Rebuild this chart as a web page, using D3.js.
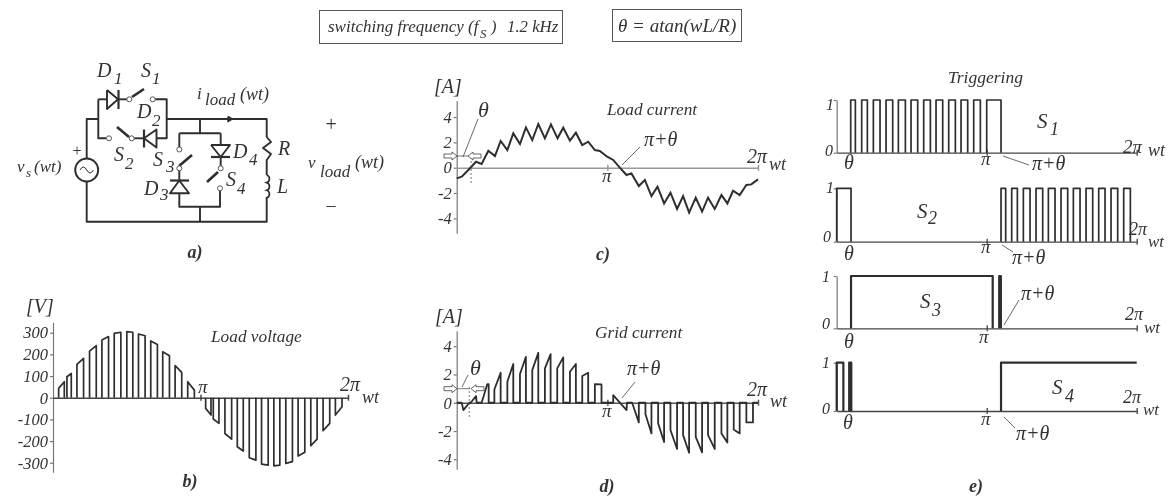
<!DOCTYPE html>
<html>
<head>
<meta charset="utf-8">
<script src="https://cdn.jsdelivr.net/npm/d3@7"></script>
<style>
  html, body { margin: 0; padding: 0; background: #fff; }
  svg { display: block; filter: blur(0.45px); }
  text { font-family: "Liberation Serif", serif; font-style: italic; fill: #333; }
</style>
</head>
<body>
<div id="chart"></div>
<script>
// b) load voltage: each pulse runs from start to end (wt in degrees)
const voltStart = [6.9, 17, 29.2, 44.6, 59.7, 74.7, 90.1, 104.3, 119.3, 133.9, 149, 164.4,
    186.3, 195.6, 209.8, 224.9, 239.5, 254.5, 269.5, 284.1, 299.1, 314.6, 329.6, 344.6];
const voltEnd = [13.8, 22.3, 37.3, 52.8, 67.8, 82.8, 97.4, 112.4, 127.4, 142.1, 157.1, 172.5,
    192.8, 202.5, 218, 232.2, 247.6, 262.6, 276.8, 292.2, 307.3, 322.3, 337.7, 352.7];
const voltStartVal = [43, 97, 154, 215, 266, 297, 305, 294, 262, 212, 148, 74,
    -49, -98, -165, -226, -277, -306, -314, -303, -269, -221, -152, -80];
const voltEndVal = [74, 112, 182, 240, 282, 302, 302, 286, 246, 194, 117, 35,
    -80, -118, -191, -246, -288, -311, -311, -295, -252, -191, -118, -42];
const voltTicks = [300, 200, 100, 0, -100, -200, -300];

// c) load current
const loadWt = [0, 6, 13.9, 23.1, 29.8, 37.8, 45.7, 52.5, 60.5, 67.6, 75.6, 82.7, 90.3, 97.5, 105.4, 112.6,
    120.5, 127.3, 135.3, 142.4, 150, 157.1, 165.1, 171, 179.8, 187, 194.9, 202.9, 208.8, 217.6, 224.8, 232.7,
    239.9, 247.8, 255.4, 263.3, 270.5, 277.7, 285.6, 293.2, 300.3, 308.3, 316.3, 323.4, 330.2, 338.1, 346.1, 352, 360];
const loadAmp = [-0.84, -0.71, -0.18, 0.47, 0.29, 1.34, 0.92, 2.11, 1.39, 2.71, 1.87, 3.18, 2.18, 3.45, 2.32, 3.42,
    2.32, 3.16, 2.13, 2.76, 1.79, 2.05, 1.39, 1.32, 0.87, 0.61, 0, -0.58, -0.45, -1.45, -0.97, -2.24,
    -1.5, -2.82, -1.97, -3.26, -2.24, -3.55, -2.37, -3.47, -2.37, -3.26, -2.16, -2.82, -1.82, -2.16, -1.37, -1.32, -0.92];
const ampTicks = [4, 2, 0, -2, -4];

// d) grid current, walked point by point
const gridWt = [0, 6, 8, 15.1, 16.7, 23.1, 23.9, 29.8, 36.6, 38.2, 38.2, 45, 45, 52.5, 52.5, 60.5, 60.5, 67.6, 67.6,
    75.6, 75.6, 82.7, 82.7, 90.3, 90.3, 97.5, 97.5, 105.4, 105.4, 112.2, 112.2, 120.1, 120.1, 127.3, 127.3,
    135.3, 135.3, 142.4, 142.4, 150, 150, 157.1, 157.1, 165.1, 165.1, 173, 173, 187, 187, 202.9, 203.5,
    209.6, 217.6, 217.6, 225.5, 225.5, 232.7, 232.7, 240.7, 240.7, 247.8, 247.8, 255.4, 255.4, 263.3, 263.3,
    270.5, 270.5, 277.7, 277.7, 285.6, 285.6, 293.2, 293.2, 300.3, 300.3, 308.3, 308.3, 316.3, 316.3, 323.4, 323.4,
    331, 331, 338.1, 338.1, 346.1, 346.1, 354, 354, 360];
const gridAmp = [0, 0, -0.52, 0, 0, 0.47, 0, 0, 1.32, 1.32, 0, 0, 0.94, 2.12, 0, 0, 1.49, 2.74, 0,
    0, 2.03, 3.25, 0, 0, 2.31, 3.54, 0, 0, 2.43, 3.44, 0, 0, 2.43, 3.21, 0,
    0, 2.19, 2.74, 0, 0, 1.89, 2.12, 0, 0, 1.32, 1.3, 0, 0, 0.54, -0.52, 0,
    0, -1.39, 0, 0, -0.8, -2.17, 0, 0, -1.46, -2.78, 0, 0, -1.93, -3.27, 0,
    0, -2.29, -3.54, 0, 0, -2.41, -3.51, 0, 0, -2.29, -3.27, 0, 0, -2.17, -2.81, 0,
    0, -1.89, -2.17, 0, 0, -1.39, -1.39, 0, 0];

// e) triggering: [on, off] in degrees of wt
const s1On = [[16.8, 22.4], [30, 36.8], [44, 52], [59.2, 67.2], [74, 82.4], [89.2, 97.2], [104.4, 112.4],
    [119.2, 127.2], [134.4, 142.4], [149.2, 157.2], [164.4, 172.4], [180, 197.2]];
const s2On = [[0, 17.2], [197.2, 202.8], [210, 216.8], [224, 232], [239.2, 247.2], [254, 262], [269.2, 277.2],
    [284, 292], [299.2, 307.2], [314.4, 322], [329.2, 337.2], [344.4, 352.4]];
const s3On = [[17.2, 187.2], [195, 197]];
const s4On = [[0, 8], [15, 17.5], [197.2, 360]];

const svg = d3.select("#chart").append("svg").attr("width", 1169).attr("height", 497);
const ink = "#2e2e2e";

function txt(x, y, str, size, anchor) {
    return svg.append("text").attr("x", x).attr("y", y).attr("font-size", size)
        .attr("text-anchor", anchor || "start").text(str);
}

// symbol with a lowered index, e.g. D1, S2
function sym(x, y, str, sub, subX, subY, size) {
    txt(x, y, str, size || 20);
    txt(subX, subY, sub, (size || 20) - 3);
}

function wire(pts, width, color) {
    return svg.append("path").attr("d", d3.line()(pts)).attr("fill", "none")
        .attr("stroke", color || ink).attr("stroke-width", width || 1.9).attr("stroke-linejoin", "round");
}

function hollowArrow(tipX, y, dir) {
    const pts = [[tipX, y], [tipX - dir * 5, y - 4], [tipX - dir * 5, y - 2], [tipX - dir * 13, y - 2],
        [tipX - dir * 13, y + 2], [tipX - dir * 5, y + 2], [tipX - dir * 5, y + 4], [tipX, y]];
    wire(pts, 0.9, "#555").attr("fill", "#fff");
}

function leader(x1, y1, x2, y2) {
    wire([[x1, y1], [x2, y2]], 0.8, "#444");
}

function yAxis(x, scale, ticks, labelled) {
    const g = svg.append("g").attr("transform", "translate(" + x + ",0)")
        .call(d3.axisLeft(scale).tickValues(ticks).tickSizeInner(3).tickSizeOuter(0).tickPadding(2)
            .tickFormat(labelled ? d => String(d) : ""));
    g.selectAll("path,line").attr("stroke", "#777").attr("stroke-width", 1.2);
    g.selectAll("text").attr("font-size", 16.5).attr("font-family", '"Liberation Serif", serif').attr("fill", "#333");
}

function xAxis(y, scale, color, width) {
    const g = svg.append("g").attr("transform", "translate(0," + y + ")")
        .call(d3.axisBottom(scale).tickValues([180, 360]).tickSizeInner(3).tickSizeOuter(0).tickFormat(""));
    g.selectAll("path,line").attr("stroke", color).attr("stroke-width", width);
    g.selectAll("line").attr("y1", -3);
}

// ---------- top boxes ----------
svg.append("rect").attr("x", 319.5).attr("y", 10.5).attr("width", 243).attr("height", 33)
    .attr("fill", "none").attr("stroke", "#555");
txt(328, 32, "switching frequency (f", 17);
txt(480, 38, "S", 13);
txt(491, 32, ")", 16.5);
txt(507, 32, "1.2 kHz", 16.8);
svg.append("rect").attr("x", 612.5).attr("y", 9.5).attr("width", 129).attr("height", 32)
    .attr("fill", "none").attr("stroke", "#555");
txt(618, 32, "θ = atan(wL/R)", 19);

// ---------- a) circuit ----------
wire([[98.3, 99.3], [98.3, 138.3], [106, 138.3]]);
wire([[98.3, 99.3], [127, 99.3]]);
wire([[98.3, 119], [86.7, 119], [86.7, 221.7], [266.7, 221.7], [266.7, 197]]);
wire([[166.7, 119], [266.7, 119], [266.7, 137]]);
wire([[155, 99.3], [166.7, 99.3], [166.7, 138.3], [157, 138.3]]);
wire([[133, 138.3], [144, 138.3]]);
wire([[200, 119], [200, 133.3]]);
wire([[179.3, 133.3], [220.7, 133.3]]);
wire([[179.3, 133.3], [179.3, 147]]);
wire([[179.3, 168], [179.3, 206.7], [220, 206.7], [220, 191]]);
wire([[200, 206.7], [200, 221.7]]);
wire([[220.7, 133.3], [220.7, 145]]);
wire([[220.7, 157], [220.7, 170]]);

// D1, D2
wire([[107, 90], [107, 109], [118, 99.3], [107, 90]]).attr("fill", "#fff");
wire([[118.5, 90], [118.5, 109]], 2.2);
wire([[144, 138.3], [156.5, 129.5], [156.5, 147.5], [144, 138.3]]).attr("fill", "#fff");
wire([[144, 129.5], [144, 147.5]], 2.2);
// D3, D4
wire([[179.3, 180.5], [170, 193.3], [189, 193.3], [179.3, 180.5]]).attr("fill", "#fff");
wire([[170, 180.5], [189, 180.5]], 2.2);
wire([[211, 145], [230, 145], [220.7, 157], [211, 145]]).attr("fill", "#fff");
wire([[211, 157], [230, 157]], 2.2);

// switch blades
wire([[132, 97], [144, 89]], 2.6);
wire([[117, 127], [129, 137]], 2.6);
wire([[179, 166], [192, 155]], 2.6);
wire([[218, 172], [207, 182]], 2.6);
[[129.3, 99.3], [152.7, 99.3], [109, 138.3], [131.7, 138.3], [179.3, 149.5], [179.3, 168.3], [220.7, 168.3], [220, 188.3]]
    .forEach(p => svg.append("circle").attr("cx", p[0]).attr("cy", p[1]).attr("r", 2.5)
        .attr("fill", "#fff").attr("stroke", "#555").attr("stroke-width", 1));

// current arrow
wire([[228, 116.5], [232, 119], [228, 121.5], [228, 116.5]], 1.5).attr("fill", ink);

// source
svg.append("circle").attr("cx", 86.7).attr("cy", 170).attr("r", 11.5)
    .attr("fill", "#fff").attr("stroke", ink).attr("stroke-width", 1.9);
svg.append("path").attr("d", "M80,170 Q83.3,164 86.7,170 T93.4,170").attr("fill", "none").attr("stroke", ink);

// R, L
wire([[266.7, 137], [271, 142], [263, 148], [271, 154], [266.7, 160], [266.7, 175]]);
svg.append("path").attr("d", "M266.7,175 a4,4 0 0 1 0,7.6 a4,4 0 0 1 0,7.6 a4,4 0 0 1 0,7.6")
    .attr("fill", "none").attr("stroke", ink).attr("stroke-width", 1.7);

sym(97, 77, "D", "1", 114, 84);
sym(141, 77, "S", "1", 152, 84);
sym(137, 118, "D", "2", 152, 126);
sym(114, 161, "S", "2", 125, 169);
sym(153, 166, "S", "3", 166, 172);
sym(233, 158, "D", "4", 249, 165);
sym(226, 186, "S", "4", 237, 194);
sym(144, 195, "D", "3", 160, 200);
txt(278, 155, "R", 20);
txt(277, 193, "L", 20);
txt(197, 99, "i", 17);
txt(205, 105, "load", 17);
txt(240, 100, "(wt)", 18);
txt(331, 131, "+", 20, "middle");
txt(331, 211, "–", 18, "middle");
txt(308, 168, "v", 17);
txt(320, 177, "load", 17);
txt(355, 168, "(wt)", 18);
txt(17, 172, "v", 17);
txt(26, 177, "s", 13);
txt(34, 172, "(wt)", 17);
txt(77, 156, "+", 16, "middle");
txt(195, 258, "a)", 18, "middle").attr("font-weight", "bold");

// ---------- b) load voltage ----------
const xB = d3.scaleLinear().domain([0, 360]).range([53, 348]);
const yB = d3.scaleLinear().domain([-344, 348]).range([472.3, 322.3]);
yAxis(53, yB, voltTicks, true);
xAxis(397.7, xB, "#444", 1.5);
voltStart.forEach((s, i) => {
    wire([[xB(s), yB(0)], [xB(s), yB(voltStartVal[i])], [xB(voltEnd[i]), yB(voltEndVal[i])], [xB(voltEnd[i]), yB(0)]], 1.7);
});
txt(26, 313, "[V]", 20);
txt(211, 342, "Load voltage", 17.3);
txt(198, 393, "π", 19);
txt(340, 391, "2π", 20);
txt(362, 403, "wt", 18);
txt(190, 487, "b)", 18, "middle").attr("font-weight", "bold");

// ---------- c) load current ----------
const xC = d3.scaleLinear().domain([0, 360]).range([456.7, 758]);
const yC = d3.scaleLinear().domain([-5.18, 5.29]).range([233.3, 100.7]);
yAxis(456.7, yC, ampTicks, true);
xAxis(167.7, xC, "#999", 1.5);
svg.append("path").datum(loadWt)
    .attr("d", d3.line().x(d => xC(d)).y((d, i) => yC(loadAmp[i])))
    .attr("fill", "none").attr("stroke", ink).attr("stroke-width", 2);
wire([[xC(17.2), 157], [xC(17.2), 183]], 0.8, "#555").attr("stroke-dasharray", "2,2");
wire([[457, 156], [468, 156]], 0.8, "#555");
hollowArrow(457, 156, 1);
hollowArrow(468, 156, -1);
leader(478, 119, 463, 157);
leader(640, 147, 622, 165);
txt(434, 93, "[A]", 20);
txt(607, 115, "Load current", 17.3);
txt(478, 117, "θ", 22);
txt(602, 182, "π", 19);
txt(644, 146, "π+θ", 20);
txt(747, 163, "2π", 20);
txt(769, 170, "wt", 18);
txt(603, 260, "c)", 18, "middle").attr("font-weight", "bold");

// ---------- d) grid current ----------
const yD = d3.scaleLinear().domain([-4.71, 5.1]).range([469.3, 330.7]);
yAxis(456.7, yD, ampTicks, true);
xAxis(402.7, xC, "#555", 1.5);
svg.append("path").datum(gridWt)
    .attr("d", d3.line().x(d => xC(d)).y((d, i) => yD(gridAmp[i])))
    .attr("fill", "none").attr("stroke", ink).attr("stroke-width", 1.8).attr("stroke-linejoin", "round");
wire([[xC(15), 387], [xC(15), 417]], 0.8, "#555").attr("stroke-dasharray", "2,2");
wire([[457, 388.7], [470, 388.7]], 0.8, "#555");
hollowArrow(457, 388.7, 1);
hollowArrow(471, 388.7, -1);
leader(468, 375, 462, 387);
leader(635, 382, 622, 398);
txt(435, 323, "[A]", 20);
txt(595, 338, "Grid current", 17.3);
txt(470, 375, "θ", 22);
txt(602, 417, "π", 19);
txt(627, 375, "π+θ", 20);
txt(747, 396, "2π", 20);
txt(770, 407, "wt", 18);
txt(607, 492, "d)", 18, "middle").attr("font-weight", "bold");

// ---------- e) triggering ----------
const xE = d3.scaleLinear().domain([0, 360]).range([836.7, 1136.7]);

function trigger(on, zeroY, oneY, width) {
    const y = d3.scaleLinear().domain([0, 1]).range([zeroY, oneY]);
    yAxis(836.7, y, [0, 1], false);
    xAxis(zeroY, xE, "#444", 1.3);
    on.forEach(p => {
        const pts = [[xE(p[0]), y(0)], [xE(p[0]), y(1)], [xE(p[1]), y(1)]];
        // the last pulse of S4 stays on to the end of the period
        if (p[1] < 360) pts.push([xE(p[1]), y(0)]);
        wire(pts, width);
    });
}

trigger(s1On, 152.7, 100, 1.7);
trigger(s2On, 241.7, 188.3, 1.7);
trigger(s3On, 328.3, 276, 2.2);
trigger(s4On, 411, 362.7, 2.2);

txt(948, 83, "Triggering", 17.5);
txt(826, 110, "1", 16);
txt(825, 156, "0", 16);
txt(844, 169, "θ", 20);
txt(981, 165, "π", 19);
txt(1032, 170, "π+θ", 20);
leader(1003, 156, 1029, 165);
sym(1037, 128, "S", "1", 1050, 135, 21);
txt(1123, 153, "2π", 19);
txt(1148, 156, "wt", 18);

txt(826, 193, "1", 16);
txt(823, 242, "0", 16);
txt(844, 260, "θ", 20);
txt(981, 253, "π", 19);
txt(1012, 264, "π+θ", 20);
leader(1002, 245, 1013, 252);
sym(917, 218, "S", "2", 928, 224, 21);
txt(1129, 235, "2π", 18);
txt(1148, 247, "wt", 17);

txt(822, 282, "1", 16);
txt(822, 329, "0", 16);
txt(844, 348, "θ", 20);
txt(979, 343, "π", 19);
txt(1021, 300, "π+θ", 20);
leader(1019, 300, 1004, 325);
sym(920, 308, "S", "3", 932, 316, 21);
txt(1125, 320, "2π", 18);
txt(1144, 333, "wt", 17);

txt(822, 368, "1", 16);
txt(822, 414, "0", 16);
txt(843, 429, "θ", 20);
txt(981, 425, "π", 19);
txt(1016, 440, "π+θ", 20);
leader(1004, 417, 1015, 428);
sym(1052, 394, "S", "4", 1065, 402, 21);
txt(1123, 403, "2π", 18);
txt(1143, 415, "wt", 17);
txt(976, 492, "e)", 18, "middle").attr("font-weight", "bold");
</script>
</body>
</html>
